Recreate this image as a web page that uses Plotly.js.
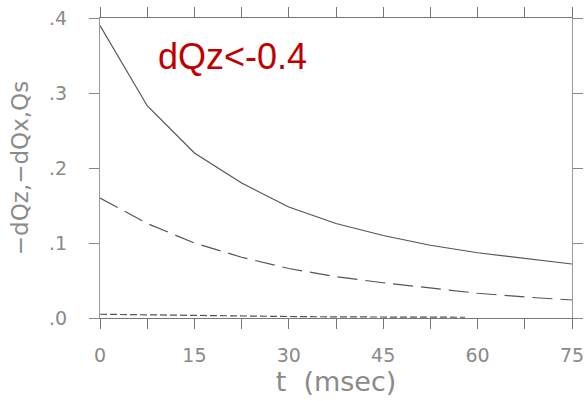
<!DOCTYPE html>
<html>
<head>
<meta charset="utf-8">
<script src="https://cdn.plot.ly/plotly-3.0.1.min.js"></script>
<style>html,body{margin:0;padding:0;background:#fff;}#chart{width:586px;height:401px;}</style>
</head>
<body>
<div id="chart"></div>
<script>
const tTimes = [0, 7.5, 15, 22.5, 30, 37.5, 45, 52.5, 60, 67.5, 75];
const dQz = [0.390, 0.283, 0.220, 0.180, 0.148, 0.126, 0.110, 0.097, 0.087, 0.079, 0.072];
const dQx = [0.160, 0.126, 0.100, 0.081, 0.066, 0.055, 0.047, 0.040, 0.033, 0.028, 0.024];
const qsTimes = [0, 7.5, 15, 22.5, 30, 37.5, 45, 52.5, 58];
const Qs = [0.005, 0.004, 0.003, 0.002, 0.002, 0.0015, 0.0012, 0.001, 0.001];
const xTickVals = [0, 7.5, 15, 22.5, 30, 37.5, 45, 52.5, 60, 67.5, 75];
const xTickText = ['0', '', '15', '', '30', '', '45', '', '60', '', '75'];
const yTickVals = [0, 0.1, 0.2, 0.3, 0.4];
const yTickText = ['.0', '.1', '.2', '.3', '.4'];

const lineColor = '#555';
const traces = [
  {x: tTimes, y: dQz, mode: 'lines', line: {color: lineColor, width: 1.2}},
  {x: tTimes, y: dQx, mode: 'lines', line: {color: lineColor, width: 1.2, dash: '20px,8px'}},
  {x: qsTimes, y: Qs, mode: 'lines', line: {color: lineColor, width: 1.2, dash: '7px,3px'}}
];
const axisFont = {family: 'DejaVu Sans, sans-serif', size: 19, color: '#8a8a8a'};
const layout = {
  width: 586, height: 401,
  margin: {l: 100, r: 14, t: 18, b: 83},
  showlegend: false,
  paper_bgcolor: '#fff', plot_bgcolor: '#fff',
  xaxis: {
    range: [0, 75], tickvals: xTickVals, ticktext: xTickText,
    showgrid: false, zeroline: false, showline: true, linecolor: '#777', linewidth: 1,
    mirror: 'ticks', ticks: 'outside', ticklen: 10, tickcolor: '#777', tickwidth: 1,
    tickfont: axisFont, ticklabelstandoff: 10,
    title: {text: 't  (msec)', font: {family: 'DejaVu Sans, sans-serif', size: 27, color: '#8a8a8a'}, standoff: 2}
  },
  yaxis: {
    range: [0, 0.4], tickvals: yTickVals, ticktext: yTickText,
    showgrid: false, zeroline: false, showline: true, linecolor: '#999', linewidth: 1,
    mirror: 'ticks', ticks: 'outside', ticklen: 10, tickcolor: '#888', tickwidth: 1,
    tickfont: axisFont, ticklabelstandoff: 18,
    title: {text: '\u2212dQz,\u2212dQx,Qs', font: {family: 'DejaVu Sans, sans-serif', size: 23, color: '#8a8a8a'}, standoff: 14}
  },
  annotations: [{
    x: 21, y: 0.349, xref: 'x', yref: 'y', showarrow: false,
    text: 'dQz<-0.4', font: {family: 'Liberation Sans, Arial, sans-serif', size: 36, color: '#c00000'}
  }]
};
Plotly.newPlot('chart', traces, layout, {staticPlot: true, displayModeBar: false});
</script>
</body>
</html>
